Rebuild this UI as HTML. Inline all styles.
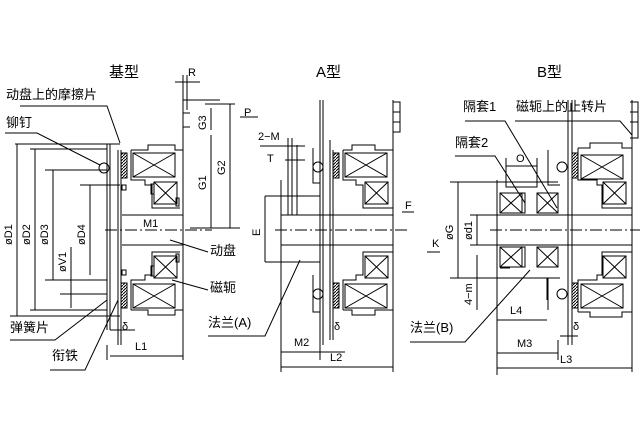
<!DOCTYPE html>
<html><head><meta charset="utf-8"><style>
html,body{margin:0;padding:0;background:#fff;width:640px;height:440px;overflow:hidden}
svg{display:block}
text{font-family:"Liberation Sans","Noto Sans CJK SC",sans-serif;fill:#000}
.c{font-size:13px}.s{font-size:11px}.t{font-size:15px}
</style></head><body>
<svg width="640" height="440" viewBox="0 0 640 440" xmlns="http://www.w3.org/2000/svg">
<defs>
<pattern id="h" width="3" height="3" patternUnits="userSpaceOnUse"><path d="M0,3L3,0" stroke="#000" stroke-width="1"/></pattern>
<g id="coil" stroke="#000" fill="none" stroke-width="1">
<rect x="0" y="0" width="42" height="24"/><path d="M0,0L42,24M42,0L0,24"/>
</g>
<g id="coil2" stroke="#000" fill="none" stroke-width="1">
<rect x="0" y="0" width="23" height="22"/><path d="M0,0L23,22M23,0L0,22"/>
</g>
</defs>
<g stroke="#000" fill="none" stroke-width="1">
<!-- ===== BASE ===== -->
<path d="M15,144H120M10,316H120"/>
<path d="M17,144V316M35,149V310M53,170V280M71,247V308M90,185V275"/>
<path d="M30,149H107M45,170H107M80,185H120M60,294H107M45,280H107M30,310H107"/>
<path d="M107,144V330M110,144V330M118,150V345M121,150V345"/>
<path d="M105,230H212" stroke-dasharray="12,3,2,3"/>
<path d="M122,215H183M122,245H183"/>
<rect x="121" y="153" width="6" height="25" fill="url(#h)"/>
<rect x="121" y="283" width="6" height="25" fill="url(#h)"/>
<path d="M131,150V180H145V185H152V208H180M131,310V280H145V275H152V252H180"/>
<path d="M131,150H148V145H175V150H183M131,310H148V315H175V310H183"/>
<use href="#coil" x="133" y="153"/><use href="#coil" x="133" y="284"/>
<use href="#coil2" x="154" y="182"/><use href="#coil2" x="154" y="256"/>
<rect x="151" y="184" width="3" height="10"/><rect x="151" y="266" width="3" height="10"/>
<rect x="176" y="198" width="3" height="8"/><rect x="176" y="254" width="3" height="8"/>
<rect x="122" y="185" width="4" height="5"/><rect x="122" y="270" width="4" height="5"/>
<circle cx="104" cy="168" r="5"/>
<path d="M183,75V345M187,75V110M183,100H220M183,113H190M183,127H190"/>
<path d="M175,82H200M211,108V130M211,135V228M230,104V228M190,228H240M205,104H235"/>
<path d="M20,106H107L120,143M5,133H37L100,165"/>
<path d="M10,340H55L107,300M50,370H85L118,300"/>
<path d="M110,356H183M107,345V360M183,345V360M110,330H135"/>
<path d="M208,252L170,240M208,290L172,280"/>
<!-- ===== A ===== -->
<path d="M320,100V345M323,100V345M330,140V340M333,150V340"/>
<path d="M275,230H410" stroke-dasharray="12,3,2,3"/>
<path d="M281,215H393M281,245H393M281,180V370M281,196H320M265,196H281M265,262H320"/>
<path d="M265,196V262M288,138V215M292,138V215M297,145V215M260,146H305M285,160H305"/>
<path d="M313,148V183H320M313,275V312H320"/>
<circle cx="318" cy="167" r="5"/><circle cx="318" cy="294" r="5"/>
<rect x="333" y="153" width="6" height="25" fill="url(#h)"/>
<rect x="333" y="283" width="6" height="25" fill="url(#h)"/>
<path d="M343,150V180H356V185H363V208H393M343,310V280H356V275H363V252H393"/>
<path d="M343,150H352V145H375V150H393M343,310H352V315H375V310H393"/>
<use href="#coil" x="345" y="153"/><use href="#coil" x="345" y="284"/>
<use href="#coil2" x="365" y="182"/><use href="#coil2" x="365" y="256"/>
<path d="M393,100V345M393,102H400V132H393M393,112H400M393,122H400"/>
<path d="M240,117H258M402,212H414"/>
<path d="M281,352H320M281,345V372M320,345V360M281,367H393M393,345V372M320,352H345"/>
<path d="M208,336H265L300,260"/>
<!-- ===== B ===== -->
<path d="M568,100V345M572,100V345"/>
<path d="M490,230H640" stroke-dasharray="12,3,2,3"/>
<path d="M497,215H632M497,245H632M497,180V375M497,182H558M497,278H547V300"/>
<path d="M458,182V278M477,215V245M477,255V310M450,182H497M450,278H497M470,215H497M470,245H497"/>
<rect x="500" y="193" width="22" height="20"/><path d="M500,193L522,213M522,193L500,213"/>
<rect x="537" y="193" width="21" height="20"/><path d="M537,193L558,213M558,193L537,213"/>
<rect x="500" y="247" width="22" height="20"/><path d="M500,247L522,267M522,247L500,267"/>
<rect x="537" y="247" width="21" height="20"/><path d="M537,247L558,267M558,247L537,267"/>
<rect x="522" y="193" width="3" height="20"/><rect x="522" y="247" width="3" height="20"/>
<path d="M506,158V187H537V158M506,166H537"/>
<path d="M548,150V185H560M548,310V278H560"/>
<circle cx="562" cy="167" r="5"/><circle cx="562" cy="294" r="5"/>
<rect x="572" y="153" width="6" height="25" fill="url(#h)"/>
<rect x="572" y="283" width="6" height="25" fill="url(#h)"/>
<path d="M578,148V180H597V185H602V208H632M578,312V280H597V275H602V252H632"/>
<path d="M578,148H590V143H622V148H632M578,312H590V317H622V312H632"/>
<use href="#coil" x="581" y="155"/><use href="#coil" x="581" y="284"/>
<use href="#coil2" x="603" y="182"/><use href="#coil2" x="603" y="256"/>
<path d="M632,100V345M630,102H638V138H630M630,112H638M630,122H638"/>
<path d="M465,121H505L557,208M455,156H495L525,203M515,121H620L632,135"/>
<path d="M427,252H440M500,268H510"/>
<path d="M497,320H547M497,353H558M558,340V360M497,368H632M632,345V372M560,336H578"/>
<path d="M410,342H465L530,270"/>
</g>
<g>
<text class="t" x="109" y="77">基型</text>
<text class="t" x="316" y="77">A型</text>
<text class="t" x="537" y="77">B型</text>
<text class="c" x="6" y="99">动盘上的摩擦片</text>
<text class="c" x="6" y="127">铆钉</text>
<text class="c" x="10" y="332">弹簧片</text>
<text class="c" x="52" y="360">衔铁</text>
<text class="c" x="210" y="255">动盘</text>
<text class="c" x="210" y="292">磁轭</text>
<text class="c" x="208" y="327">法兰(A)</text>
<text class="c" x="463" y="111">隔套1</text>
<text class="c" x="516" y="111">磁轭上的止转片</text>
<text class="c" x="455" y="147">隔套2</text>
<text class="c" x="410" y="332">法兰(B)</text>
<text class="s" x="188" y="76">R</text>
<text class="s" x="143" y="227">M1</text>
<text class="s" x="135" y="350">L1</text>
<text class="s" x="122" y="330">δ</text>
<text class="s" x="258" y="140">2−M</text>
<text class="s" x="267" y="162">T</text>
<text class="s" x="244" y="116">P</text>
<text class="s" x="405" y="209">F</text>
<text class="s" x="294" y="346">M2</text>
<text class="s" x="330" y="361">L2</text>
<text class="s" x="334" y="330">δ</text>
<text class="s" x="432" y="247">K</text>
<text class="s" x="516" y="162">O</text>
<text class="s" x="510" y="314">L4</text>
<text class="s" x="517" y="347">M3</text>
<text class="s" x="560" y="363">L3</text>
<text class="s" x="573" y="330">δ</text>
<text transform="translate(12,245) rotate(-90)" class="s">øD1</text>
<text transform="translate(30,245) rotate(-90)" class="s">øD2</text>
<text transform="translate(48,245) rotate(-90)" class="s">øD3</text>
<text transform="translate(85,245) rotate(-90)" class="s">øD4</text>
<text transform="translate(66,272) rotate(-90)" class="s">øV1</text>
<text transform="translate(206,130) rotate(-90)" class="s">G3</text>
<text transform="translate(206,190) rotate(-90)" class="s">G1</text>
<text transform="translate(225,175) rotate(-90)" class="s">G2</text>
<text transform="translate(260,236) rotate(-90)" class="s">E</text>
<text transform="translate(453,240) rotate(-90)" class="s">øG</text>
<text transform="translate(472,240) rotate(-90)" class="s">ød1</text>
<text transform="translate(472,305) rotate(-90)" class="s">4−m</text>
</g>
</svg>
</body></html>
